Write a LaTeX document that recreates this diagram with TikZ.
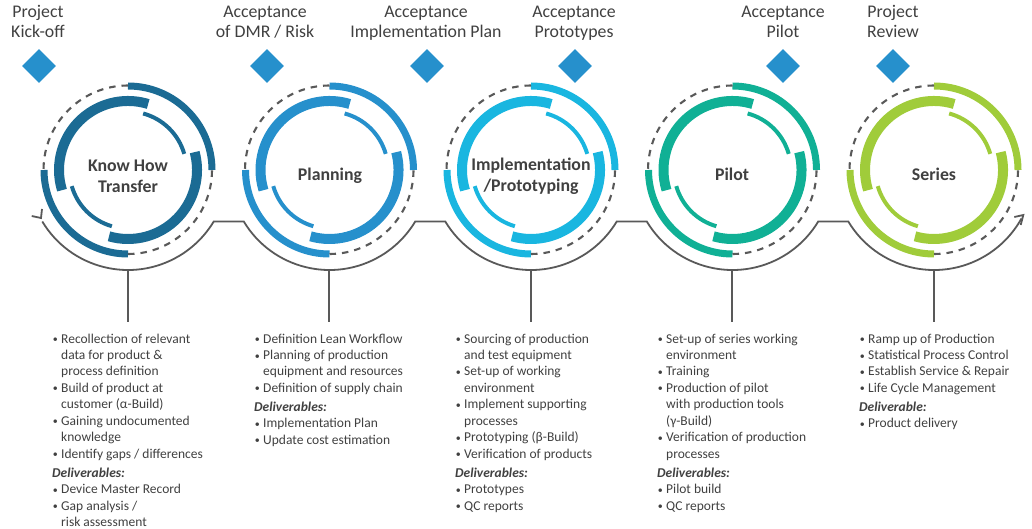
\documentclass[tikz,border=0pt]{standalone}
\usepackage{fontspec}
\setmainfont{Carlito}
\usetikzlibrary{shapes.geometric}
\definecolor{cA}{HTML}{1B6B94}
\definecolor{cB}{HTML}{2690CC}
\definecolor{cC}{HTML}{19B6E0}
\definecolor{cD}{HTML}{10B095}
\definecolor{cE}{HTML}{A0CC3A}
\definecolor{ink}{HTML}{404040}
\definecolor{linegrey}{HTML}{595959}
\newcommand\bul{\makebox[9pt][l]{\hspace*{0.6pt}\raisebox{0.5pt}{\fontsize{10}{10}\selectfont •}}}
\newcommand\ind{\hspace*{9pt}}
\newcommand\dlv[1]{\textbf{\textit{#1}}}
\newcommand\phasering[3]{%
  \begin{scope}[shift={(#1,358)}]
    \draw[#2,line width=7pt] (90:84) arc (90:0:84);
    \draw[#2,line width=7pt] (180:84) arc (180:270:84);
    \draw[#2,line width=10pt] (73:69) arc (73:197:69);
    \draw[#2,line width=10pt] (15:69) arc (15:-106:69);
    \draw[#2,line width=4pt] (75:58.5) arc (75:16:58.5);
    \draw[#2,line width=4pt] (196:58.5) arc (196:254:58.5);
    \draw[dashring] (90:84.5) arc (90:180:84.5);
    \draw[dashring] (270:84) arc (270:360:84);
    \coordinate (#3low) at (270:100);
    \coordinate (#3l) at (211:100);
    \coordinate (#3r) at (-29:100);
  \end{scope}}
\tikzset{
  dashring/.style={linegrey,line width=2.1pt,dash pattern=on 6.5pt off 6pt},
  conn/.style={linegrey,line width=1.8pt},
  milestone/.style={diamond,fill=cB,minimum width=34pt,minimum height=34pt,inner sep=0pt},
  toplabel/.style={text=ink,font=\fontsize{17.8}{20}\selectfont,align=center,anchor=center},
  title/.style={text=ink,font=\bfseries\fontsize{17.8}{21}\selectfont,align=center,anchor=center},
  bodylist/.style={text=ink,font=\fontsize{13.5}{16.45}\selectfont,align=left,anchor=north west,inner sep=0pt}
}
\begin{document}
\begin{tikzpicture}[x=1pt,y=1pt]
\useasboundingbox (0,0) rectangle (1032,528);
% rings
\phasering{128}{cA}{pa}
\phasering{329.5}{cB}{pb}
\phasering{531}{cC}{pc}
\phasering{732.5}{cD}{pd}
\phasering{934}{cE}{pe}
% titles
\node[title] (ta) at (128,352) {Know How\\Transfer};
\node[title] (tb) at (330,352) {Planning};
\node[title] (tc) at (531,352) {Implementation\\/Prototyping};
\node[title] (td) at (732,354) {Pilot};
\node[title] (te) at (934,354) {Series};
% milestones
\node[milestone] (ma) at (39,462) {};
\node[milestone] (mb) at (267,462) {};
\node[milestone] (mc) at (427,462) {};
\node[milestone] (md) at (575,462) {};
\node[milestone] (me) at (783,462) {};
\node[milestone] (mf) at (893,462) {};
\node[toplabel] (la) at (38,504) {\strut Project\\\strut Kick-off};
\node[toplabel] (lb) at (265,504) {\strut Acceptance\\\strut of DMR / Risk};
\node[toplabel] (lc) at (426,504) {\strut Acceptance\\\strut Implementation Plan};
\node[toplabel] (ld) at (574,504) {\strut Acceptance\\\strut Prototypes};
\node[toplabel] (le) at (783,504) {\strut Acceptance\\\strut Pilot};
\node[toplabel] (lf) at (893,504) {\strut Project\\\strut Review};
% baseline connector
\coordinate (arrowL) at (41,310);
\coordinate (arrowR) at (1023.3,313);
\draw[conn] (pal) arc (211:329:100) -- (pbl) arc (211:329:100) -- (pcl) arc (211:329:100) -- (pdl) arc (211:329:100) -- (pel) arc (211:331:100);
\draw[conn] (31.7,312) -- (arrowL) -- (42,319);
\draw[conn] (1014.3,311) -- (arrowR) -- (1020.7,303);
% lists
\node[bodylist] (ba) at (52,194.5) {\bul Recollection of relevant\\\ind data for product \&\\\ind process definition\\\bul Build of product at\\\ind customer (α-Build)\\\bul Gaining undocumented\\\ind knowledge\\\bul Identify gaps / differences\\[2.5pt]\dlv{Deliverables:}\\\bul Device Master Record\\\bul Gap analysis /\\\ind risk assessment};
\node[bodylist] (bb) at (254,194.5) {\bul Definition Lean Workflow\\\bul Planning of production\\\ind equipment and resources\\\bul Definition of supply chain\\[2.5pt]\dlv{Deliverables:}\\\bul Implementation Plan\\\bul Update cost estimation};
\node[bodylist] (bc) at (455,194.5) {\bul Sourcing of production\\\ind and test equipment\\\bul Set-up of working\\\ind environment\\\bul Implement supporting\\\ind processes\\\bul Prototyping (β-Build)\\\bul Verification of products\\[2.5pt]\dlv{Deliverables:}\\\bul Prototypes\\\bul QC reports};
\node[bodylist] (bd) at (657,194.5) {\bul Set-up of series working\\\ind environment\\\bul Training\\\bul Production of pilot\\\ind with production tools\\\ind (γ-Build)\\\bul Verification of production\\\ind processes\\[2.5pt]\dlv{Deliverables:}\\\bul Pilot build\\\bul QC reports};
\node[bodylist] (be) at (859,194.5) {\bul Ramp up of Production\\\bul Statistical Process Control\\\bul Establish Service \& Repair\\\bul Life Cycle Management\\[2.5pt]\dlv{Deliverable:}\\\bul Product delivery};
% drops
\foreach \p/\s in {pa/0,pb/-0.5,pc/0,pd/-0.5,pe/0}{
  \draw[conn] ([xshift=\s pt]\p low) -- ([xshift=\s pt]\p low |- 0,206);
}
\end{tikzpicture}
\end{document}
